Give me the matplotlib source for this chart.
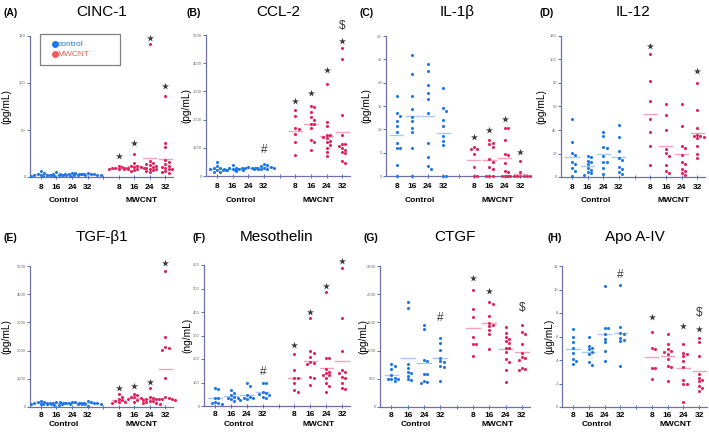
import numpy as np
import matplotlib
matplotlib.use("Agg")
import matplotlib.pyplot as plt
from matplotlib.lines import Line2D
from matplotlib.patches import Rectangle

plt.rcParams['font.family'] = ['Liberation Sans', 'DejaVu Sans']

# weeks per group
weeks = ['8', '16', '24', '32']

# ---- data ----
cinc1_control = [[1, 2, 2, 2.5, 3, 2, 4, 6, 1.5],
                 [1.5, 2, 2.5, 3, 5, 2, 1.5, 2.5, 3.5],
                 [2, 3, 3.5, 2.5, 4, 4.5, 2, 3, 3.5],
                 [2, 2.5, 3, 3.5, 2, 2.5, 3, 4, 3]]
cinc1_mwcnt = [[8, 9, 10, 10, 11, 12, 9, 10],
               [24, 15, 12, 11, 10, 10, 9, 8, 7, 6, 12, 11],
               [141, 17, 15, 14, 13, 12, 11, 10, 9, 8, 7, 6, 5],
               [86, 36, 32, 18, 16, 14, 12, 11, 10, 9, 8, 6, 5, 4]]
cinc1_marks = [(4, '*', 22), (5, '*', 36), (6, '*', 148), (7, '*', 97)]

ccl2_control = [[500, 350, 300, 250, 250, 200, 150, 150, 300, 200],
                [380, 300, 280, 250, 230, 220, 200, 180, 260],
                [330, 300, 290, 270, 260, 250, 240, 230, 280],
                [430, 380, 350, 330, 300, 280, 260, 250, 300]]
ccl2_mwcnt = [[2330, 2140, 1700, 1670, 1500, 1210, 740],
              [2500, 2450, 2270, 2100, 2000, 1850, 1830, 1700, 1270, 1200, 920],
              [3260, 1900, 1770, 1450, 1450, 1400, 1330, 1250, 1200, 1100, 1000, 850, 700],
              [4550, 4160, 2160, 1450, 1150, 1130, 1080, 1000, 920, 850, 800, 530, 470]]
ccl2_marks = [(3, '#', 920), (4, '*', 2670), (5, '*', 2940), (6, '*', 3760),
              (7, '*', 4780), (7, '$', 5330)]

il1b_control = [[17.1, 13.5, 12.8, 11.8, 10.7, 9.5, 7.0, 6.1, 6.1, 2.4, 0],
                [25.9, 21.8, 17.1, 14.3, 12.7, 11.8, 10.3, 9.5, 6.1, 0],
                [24.1, 22.5, 19.5, 17.8, 16.4, 13.4, 7.1, 4.0, 2.2, 1.5],
                [18.8, 14.5, 14.0, 12.0, 10.7, 8.6, 7.6, 6.6, 0, 0]]
il1b_mwcnt = [[6.3, 5.7, 5.7, 4.7, 2.0, 0, 0],
              [7.7, 7.1, 6.8, 6.3, 3.6, 3.1, 2.0, 1.6, 0, 0, 0],
              [10.2, 10.2, 7.7, 4.8, 4.5, 2.7, 1.1, 0.9, 0, 0, 0],
              [3.2, 0.9, 0, 0, 0, 0, 0, 0, 0, 0]]
il1b_marks = [(4, '*', 8.4), (5, '*', 9.8), (6, '*', 12.3), (7, '*', 5.2)]

il12_control = [[49.5, 29.5, 20.4, 19, 12.7, 11, 7.6, 4.8, 1],
                [18, 16.7, 14, 12.7, 11, 7.6, 6.2, 4, 3, 2],
                [38, 35, 25.5, 24.6, 17.6, 12.7, 12.5, 7.6, 2.5],
                [44, 34, 21.8, 16.1, 14.7, 8.2, 7.1, 4.2, 2.5]]
il12_mwcnt = [[105, 82, 65, 49, 38.5, 26, 10.5],
              [62, 53, 40, 24, 20.4, 17.6, 10.5, 5.4, 3.4],
              [62, 43, 26.6, 24.6, 19, 12.7, 11, 6.8, 5.4, 3.4, 2],
              [80, 57, 42, 36, 35, 34.5, 34, 26, 19.5, 16.1, 33]]
il12_marks = [(4, '*', 111.6), (7, '*', 90.6)]

tgfb1_control = [[230, 170, 150, 130, 120, 100, 90, 80, 160],
                 [180, 160, 150, 140, 130, 120, 110, 100, 150],
                 [190, 170, 150, 130, 120, 100, 90, 80, 140],
                 [200, 170, 150, 140, 130, 120, 110, 50, 150]]
tgfb1_mwcnt = [[470, 360, 300, 240, 180, 150, 200, 160],
               [470, 410, 360, 320, 300, 240, 180, 350],
               [675, 360, 320, 300, 280, 250, 230, 200, 180, 150, 130, 120],
               [4820, 2490, 2120, 2100, 2010, 1040, 360, 320, 300, 280, 270, 250]]
tgfb1_marks = [(4, '*', 675), (5, '*', 750), (6, '*', 890), (7, '*', 5100)]

meso_control = [[78, 72, 35, 33, 18, 11, 7, 11],
                [68, 57, 47, 40, 35, 33, 28, 21],
                [96, 86, 47, 40, 35, 33, 28, 26],
                [100, 99, 61, 54, 50, 47, 40, 33]]
meso_mwcnt = [[220, 153, 118, 118, 96, 68, 61],
              [373, 234, 224, 210, 189, 182, 177, 122, 118, 89],
              [483, 206, 203, 156, 146, 140, 132, 130, 118, 99, 86, 61],
              [586, 373, 235, 153, 146, 139, 125, 118, 99, 75, 71]]
meso_marks = [(3, '#', 146), (4, '*', 260), (5, '*', 401), (6, '*', 512), (7, '*', 618)]

ctgf_control = [[757, 727, 668, 567, 520, 502, 490, 461, 490],
                [1868, 1750, 757, 686, 626, 609, 550, 490, 480],
                [1454, 1377, 827, 816, 591, 591, 461, 431, 449],
                [1229, 1129, 1005, 875, 816, 798, 727, 709, 461]]
ctgf_mwcnt = [[2070, 1740, 1590, 1240, 1110, 1110, 900],
              [1870, 1830, 1620, 1490, 1460, 1430, 1370, 1290, 1030],
              [1410, 1320, 1250, 1200, 1170, 1130, 1050, 1040, 980, 850, 800, 650, 450],
              [1450, 1330, 1290, 1120, 950, 890, 860, 840, 700, 680, 650]]
ctgf_marks = [(3, '#', 1584), (4, '*', 2290), (5, '*', 2050), (7, '$', 1750)]

apo_control = [[6.6, 6.0, 5.5, 5.0, 4.6, 4.1, 3.9, 3.7],
               [5.96, 5.2, 5.0, 4.9, 4.7, 4.5, 3.8, 3.6],
               [10.3, 6.7, 6.7, 6.2, 5.8, 5.5, 4.8, 3.9],
               [10.4, 6.8, 6.3, 6.2, 5.9, 5.7, 5.6, 3.5]]
apo_mwcnt = [[6.4, 5.0, 4.9, 3.3, 3.3, 2.4],
             [6.2, 5.4, 4.9, 4.8, 4.7, 4.5, 4.1, 3.5, 3.4, 2.2],
             [5.4, 4.6, 4.5, 4.3, 3.9, 3.4, 2.3, 2.0, 2.0, 0.4],
             [5.9, 5.5, 4.3, 2.8, 2.5, 2.3, 2.2, 1.8, 1.6, 1.4]]
apo_marks = [(3, '#', 11.2), (4, '*', 7.7), (6, '*', 6.9), (7, '*', 6.6), (7, '$', 8.0)]

BLUE = '#1f78e6'
RED = '#e0245e'
BLUE_LINE = '#a9c9f2'
RED_LINE = '#f2a3bb'
AXC = '#7070a8'
TICKC = '#4a6ee0'

W, H = 709, 432
fig = plt.figure(figsize=(W / 100, H / 100), dpi=100)

# letter, title, ylabel, ymax, step, control, mwcnt, marks, (left, top, right, bottom) px, ylabel x px, letter x px
panels = [
    ('(A)', 'CINC-1', '(pg/mL)', 150, 50, cinc1_control, cinc1_mwcnt, cinc1_marks, (30, 36, 173, 177), 6, 4),
    ('(B)', 'CCL-2', '(pg/mL)', 5000, 1000, ccl2_control, ccl2_mwcnt, ccl2_marks, (206, 35, 350, 176), 186, 187),
    ('(C)', 'IL-1\u03b2', '(pg/mL)', 30, 5, il1b_control, il1b_mwcnt, il1b_marks, (386, 36, 528, 176), 366, 359),
    ('(D)', 'IL-12', '(pg/mL)', 120, 20, il12_control, il12_mwcnt, il12_marks, (561, 36, 705, 177), 541, 540),
    ('(E)', 'TGF-\u03b21', '(pg/mL)', 5000, 1000, tgfb1_control, tgfb1_mwcnt, tgfb1_marks, (30, 266, 173, 407), 6, 3),
    ('(F)', 'Mesothelin', '(ng/mL)', 600, 100, meso_control, meso_mwcnt, meso_marks, (204, 265, 350, 406), 187, 192),
    ('(G)', 'CTGF', '(pg/mL)', 2500, 500, ctgf_control, ctgf_mwcnt, ctgf_marks, (380, 266, 530, 407), 363, 363),
    ('(H)', 'Apo A-IV', '(\u00b5g/mL)', 12, 2, apo_control, apo_mwcnt, apo_marks, (562, 266, 707, 407), 549, 547),
]


def swarm(vals, ymax, xpx, ypx, d=3.3):
    vals = np.asarray(vals, dtype=float)
    order = np.argsort(-vals, kind='stable')
    placed = []
    offs = np.zeros(len(vals))
    step = d / xpx
    for i in order:
        y = vals[i] / ymax * ypx
        x = 0.0
        for k in [0, 1, -1, 2, -2, 3, -3, 4, -4]:
            x = k * step
            if all((x * xpx - px) ** 2 + (y - py) ** 2 >= d * d for px, py in placed):
                break
        offs[i] = x
        placed.append((x * xpx, y))
    return offs


xlo, xhi = 0.3, 9.5
ctrl_pos = [1, 2, 3, 4]
mw_pos = [6, 7, 8, 9]

for letter, title, ylab, ymax, step, ctrl, mw, marks, (l, t, r, b), ylx, letx in panels:
    top_row = t < 100
    ax = fig.add_axes([l / W, 1 - b / H, (r - l) / W, (b - t) / H])
    xpx = (r - l) / (xhi - xlo)
    ypx = b - t
    for pos_list, data, col, lcol in [(ctrl_pos, ctrl, BLUE, BLUE_LINE), (mw_pos, mw, RED, RED_LINE)]:
        for pos, vals in zip(pos_list, data):
            offs = swarm(vals, ymax, xpx, ypx)
            ax.scatter(pos + offs, vals, s=5, color=col, linewidths=0, zorder=3, clip_on=False)
            m = np.mean(vals)
            ax.plot([pos - 0.42, pos + 0.42], [m, m], color=lcol, lw=1.0, zorder=2, clip_on=False)
    all_pos = ctrl_pos + mw_pos
    for gi, sym, yv in marks:
        if sym == '*':
            ax.scatter([all_pos[gi]], [yv], marker='*', s=28, color='#3a3a3a', linewidths=0,
                       zorder=4, clip_on=False)
        else:
            ax.text(all_pos[gi], yv, sym, ha='center', va='center', fontsize=8.5, color='#3a3a3a',
                    zorder=4, clip_on=False)

    ax.set_xlim(xlo, xhi)
    ax.set_ylim(0, ymax)
    yt = np.arange(0, ymax + step / 2, step)
    ax.set_yticks(yt)
    ax.set_yticklabels([f'{v:g}' for v in yt])
    ax.set_xticks(range(1, 10))
    ax.set_xticklabels(weeks + [''] + weeks)
    for s in ['top', 'right']:
        ax.spines[s].set_visible(False)
    for s in ['left', 'bottom']:
        ax.spines[s].set_color(AXC)
        ax.spines[s].set_linewidth(0.9)
    ax.tick_params(axis='y', direction='out', length=2, width=0.7, color=TICKC,
                   labelsize=3, labelcolor='#666666', pad=1)
    ax.tick_params(axis='x', direction='inout', length=2.5, width=0.7, color=TICKC,
                   labelsize=6, pad=4 if top_row else 2.5)
    for tl in ax.get_xticklabels():
        tl.set_fontweight('bold')
    ax.set_facecolor('none')

    tr = ax.get_xaxis_transform()
    gy = -(24 if top_row else 18) / ypx
    ax.text(2.5, gy, 'Control', transform=tr, ha='center', va='center',
            fontsize=6, fontweight='bold')
    ax.text(7.5, gy, 'MWCNT', transform=tr, ha='center', va='center',
            fontsize=6, fontweight='bold')

    # title and panel letter
    title_y = 12 if top_row else 237
    fig.text((l + r) / 2 / W, 1 - title_y / H, title, ha='center', va='center', fontsize=11)
    let_y = 13 if top_row else 238
    fig.text(letx / W, 1 - let_y / H, letter, ha='left', va='center', fontsize=7.5, fontweight='bold')
    fig.text(ylx / W, 1 - (t + b) / 2 / H, ylab, ha='center', va='center', rotation=90, fontsize=7.3)

# legend box in panel A
fig.add_artist(Rectangle((40 / W, 1 - 65 / H), 80 / W, 31 / H, transform=fig.transFigure,
                         facecolor='white', edgecolor='#808080', lw=0.9, zorder=5))
for yy, lab, col in [(44.3, 'control', BLUE), (54.3, 'MWCNT', '#f05a5a')]:
    fig.add_artist(Line2D([55 / W], [1 - yy / H], marker='o', ms=4, color=col, ls='',
                          transform=fig.transFigure, zorder=6))
    fig.text(57.5 / W, 1 - yy / H, lab, ha='left', va='center', fontsize=6, color=col, zorder=6)

fig.savefig('out.png', dpi=100)
